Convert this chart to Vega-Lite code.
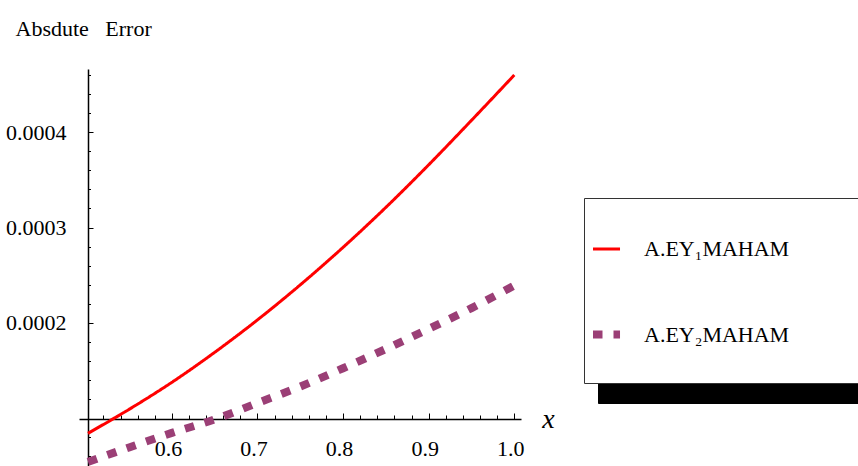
{
  "$schema": "https://vega.github.io/schema/vega-lite/v6.json",
  "width": 442,
  "height": 397,
  "autosize": {"type": "none"},
  "padding": {"left": 79, "top": 69, "right": 337, "bottom": 0},
  "background": "white",
  "config": {
    "view": {"stroke": null},
    "axis": {
      "grid": false,
      "labelFont": "Liberation Serif",
      "labelFontSize": 22,
      "labelColor": "black",
      "titleFont": "Liberation Serif",
      "titleColor": "black",
      "titleFontWeight": "normal",
      "tickColor": "black",
      "domainColor": "black"
    }
  },
  "data": {
    "values": [
      {"x": 0.502, "error": 0.0000838, "series": "A.EY₁MAHAM"},
      {"x": 0.55, "error": 0.0001090, "series": "A.EY₁MAHAM"},
      {"x": 0.6, "error": 0.0001374, "series": "A.EY₁MAHAM"},
      {"x": 0.65, "error": 0.0001689, "series": "A.EY₁MAHAM"},
      {"x": 0.7, "error": 0.0002030, "series": "A.EY₁MAHAM"},
      {"x": 0.75, "error": 0.0002398, "series": "A.EY₁MAHAM"},
      {"x": 0.8, "error": 0.0002792, "series": "A.EY₁MAHAM"},
      {"x": 0.85, "error": 0.0003212, "series": "A.EY₁MAHAM"},
      {"x": 0.9, "error": 0.0003659, "series": "A.EY₁MAHAM"},
      {"x": 0.95, "error": 0.0004126, "series": "A.EY₁MAHAM"},
      {"x": 1.0, "error": 0.0004602, "series": "A.EY₁MAHAM"},
      {"x": 0.502, "error": 0.0000539, "series": "A.EY₂MAHAM"},
      {"x": 0.55, "error": 0.0000690, "series": "A.EY₂MAHAM"},
      {"x": 0.6, "error": 0.0000843, "series": "A.EY₂MAHAM"},
      {"x": 0.65, "error": 0.0000984, "series": "A.EY₂MAHAM"},
      {"x": 0.7, "error": 0.0001157, "series": "A.EY₂MAHAM"},
      {"x": 0.75, "error": 0.0001329, "series": "A.EY₂MAHAM"},
      {"x": 0.8, "error": 0.0001522, "series": "A.EY₂MAHAM"},
      {"x": 0.85, "error": 0.0001724, "series": "A.EY₂MAHAM"},
      {"x": 0.9, "error": 0.0001935, "series": "A.EY₂MAHAM"},
      {"x": 0.95, "error": 0.0002154, "series": "A.EY₂MAHAM"},
      {"x": 1.0, "error": 0.0002391, "series": "A.EY₂MAHAM"}
    ]
  },
  "layer": [
    {
      "mark": {"type": "line", "opacity": 0, "interpolate": "monotone"},
      "encoding": {
        "x": {
          "field": "x", "type": "quantitative",
          "scale": {"domain": [0.4915, 1.0078], "nice": false, "zero": false},
          "axis": {
            "orient": "bottom", "offset": -47,
            "values": [0.6, 0.7, 0.8, 0.9, 1.0], "format": ".1f",
            "tickSize": -6, "tickWidth": 1,
            "labelPadding": 42, "labelBaseline": "alphabetic", "labelOffset": -4,
            "domainWidth": 1.5,
            "title": "x", "titleFontStyle": "italic", "titleFontSize": 28,
            "titleX": 469, "titleY": 8, "titleBaseline": "alphabetic", "titleAlign": "center"
          }
        },
        "y": {
          "field": "error", "type": "quantitative",
          "scale": {"domain": [0.0000495, 0.0004665], "nice": false, "zero": false},
          "axis": {
            "orient": "left", "offset": -9,
            "values": [0.0002, 0.0003, 0.0004], "format": ".4f",
            "tickSize": -5, "tickWidth": 1,
            "labelPadding": 27,
            "domainWidth": 1.5,
            "title": "Absdute\u00a0\u00a0\u00a0Error", "titleAngle": 0, "titleAlign": "left",
            "titleBaseline": "alphabetic", "titleX": -73, "titleY": -34, "titleFontSize": 22
          }
        },
        "color": {
          "field": "series", "type": "nominal",
          "scale": {"domain": ["A.EY₁MAHAM", "A.EY₂MAHAM"], "range": ["black", "black"]},
          "legend": {
            "orient": "none", "direction": "vertical", "legendX": 519, "legendY": 149,
            "title": null, "fillColor": "black", "strokeColor": "black",
            "padding": 9, "rowPadding": 1,
            "symbolType": "M-1,0H-0.333", "symbolSize": 6561, "symbolOffset": -4,
            "labelFont": "Liberation Serif", "labelFontSize": 22, "labelColor": "black",
            "labelOffset": -34, "labelLimit": 0,
            "labelExpr": "['', datum.label + '⠀⠀⠀⠀', '']",
            "encode": {
              "symbols": {"update": {"strokeJoin": {"value": "round"}}},
              "labels": {"update": {"lineHeight": {"value": 28.5}, "dy": {"value": -28.5}}}
            }
          }
        },
        "strokeDash": {
          "field": "series", "type": "nominal",
          "scale": {"domain": ["A.EY₁MAHAM", "A.EY₂MAHAM"], "range": [[1, 0], [9.5, 11]]}
        },
        "strokeWidth": {
          "field": "series", "type": "nominal",
          "scale": {"type": "ordinal", "domain": ["A.EY₁MAHAM", "A.EY₂MAHAM"], "range": [3, 8]}
        }
      }
    },
    {
      "mark": {"type": "line", "interpolate": "monotone", "strokeCap": "butt"},
      "encoding": {
        "x": {
          "field": "x", "type": "quantitative",
          "scale": {"domain": [0.4915, 1.0078], "nice": false, "zero": false},
          "axis": {
            "orient": "bottom", "offset": -47,
            "values": [0.52, 0.54, 0.56, 0.58, 0.62, 0.64, 0.66, 0.68, 0.72, 0.74, 0.76, 0.78, 0.82, 0.84, 0.86, 0.88, 0.92, 0.94, 0.96, 0.98],
            "labels": false, "domain": false, "tickSize": -4, "title": null
          }
        },
        "y": {
          "field": "error", "type": "quantitative",
          "scale": {"domain": [0.0000495, 0.0004665], "nice": false, "zero": false},
          "axis": {
            "orient": "left", "offset": -9,
            "values": [0.00006, 0.00008, 0.00012, 0.00014, 0.00016, 0.00018, 0.00022, 0.00024, 0.00026, 0.00028, 0.00032, 0.00034, 0.00036, 0.00038, 0.00042, 0.00044, 0.00046],
            "labels": false, "domain": false, "tickSize": -2.5, "title": null
          }
        },
        "color": {
          "field": "series", "type": "nominal",
          "scale": {"domain": ["A.EY₁MAHAM", "A.EY₂MAHAM"], "range": ["#ff0000", "#9b3f76"]},
          "legend": {
            "orient": "none", "direction": "vertical", "legendX": 505, "legendY": 129,
            "title": null, "fillColor": "white", "strokeColor": "#333333",
            "padding": 9, "rowPadding": 1,
            "symbolType": "M-1,0H-0.333", "symbolSize": 6561, "symbolOffset": -4,
            "labelFont": "Liberation Serif", "labelFontSize": 22, "labelColor": "black",
            "labelOffset": -34, "labelLimit": 0,
            "labelExpr": "['', datum.label + '⠀⠀⠀⠀', '']",
            "encode": {
              "symbols": {"update": {"strokeJoin": {"value": "round"}}},
              "labels": {"update": {"lineHeight": {"value": 28.5}, "dy": {"value": -28.5}}}
            }
          }
        },
        "strokeDash": {
          "field": "series", "type": "nominal",
          "scale": {"domain": ["A.EY₁MAHAM", "A.EY₂MAHAM"], "range": [[1, 0], [9.5, 11]]}
        },
        "strokeWidth": {
          "field": "series", "type": "nominal",
          "scale": {"type": "ordinal", "domain": ["A.EY₁MAHAM", "A.EY₂MAHAM"], "range": [3, 8]}
        }
      }
    }
  ],
  "resolve": {
    "axis": {"x": "independent", "y": "independent"},
    "scale": {"color": "independent", "strokeDash": "independent", "strokeWidth": "independent"},
    "legend": {"color": "independent", "strokeDash": "independent", "strokeWidth": "independent"}
  }
}
